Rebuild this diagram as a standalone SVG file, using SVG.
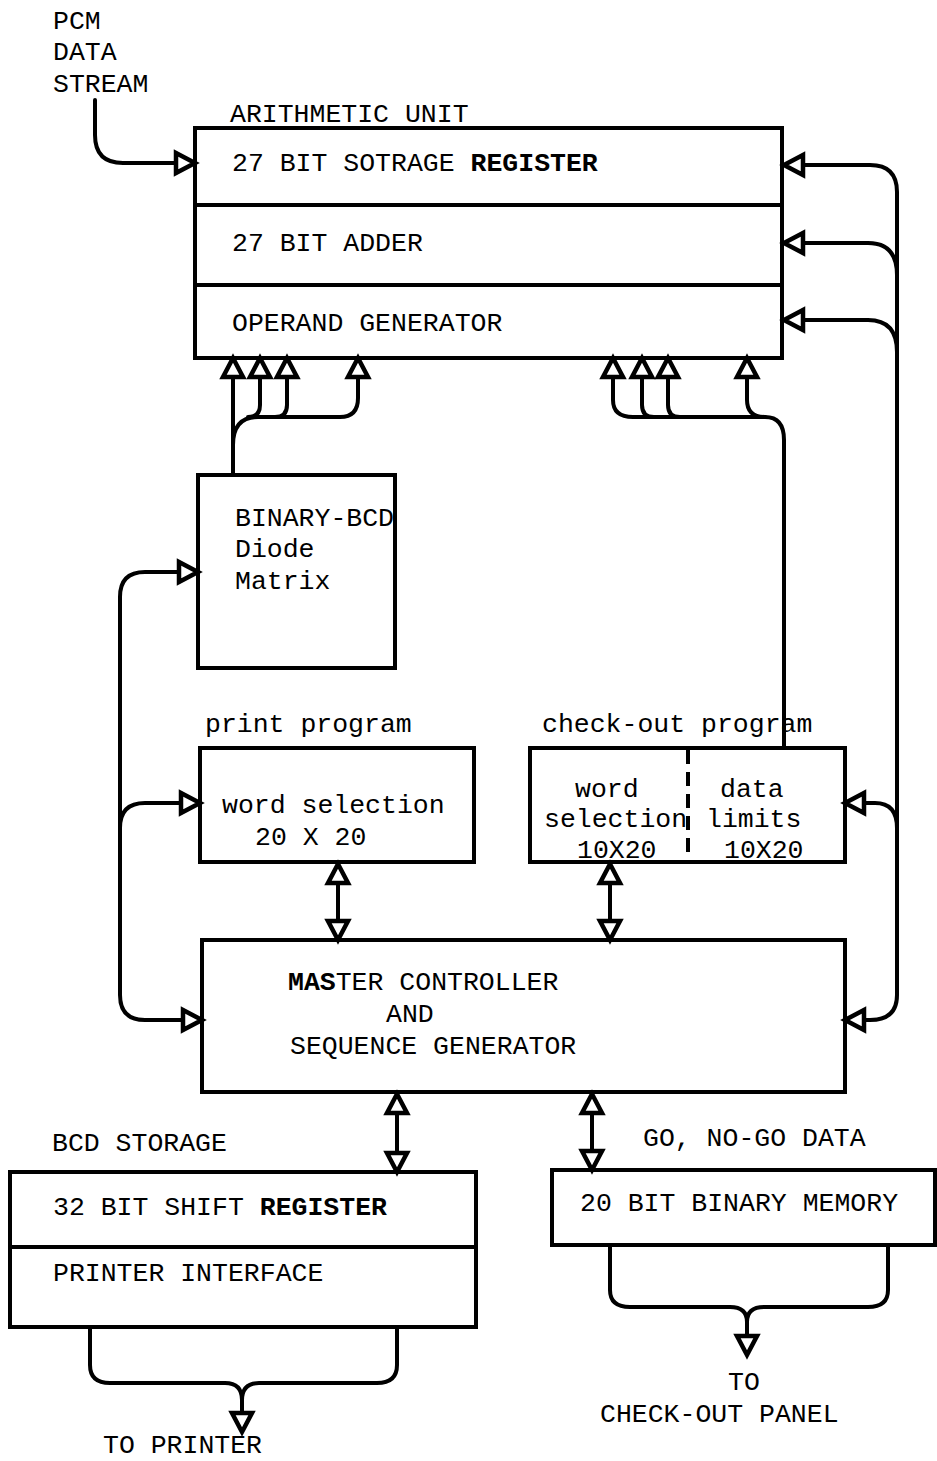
<svg xmlns="http://www.w3.org/2000/svg" xmlns:xlink="http://www.w3.org/1999/xlink" width="937" height="1461" viewBox="0 0 937 1461">
<style>
.box{fill:none;stroke:#000;stroke-width:4}
.ln{fill:none;stroke:#000;stroke-width:4;stroke-linejoin:round;stroke-linecap:round}
.ar{fill:#fff;stroke:#000;stroke-width:4.5;stroke-linejoin:miter}
text{font-family:"Liberation Mono","Courier New",monospace;font-size:26.5px;fill:#000}
.b{font-weight:bold}
</style>
<defs>
<path id="ah" d="M0,0 L-19,-10 L-19,10 Z"/>
</defs>
<rect width="937" height="1461" fill="#fff"/>

<g id="connectors">
<path class="ln" d="M95,100 V135 Q95,163 123,163 H176"/>
<path class="ln" d="M802,165 H870 Q897,165 897,192 V995 Q897,1020 870,1020 H864"/>
<path class="ln" d="M802,243 H868 Q897,243 897,275"/>
<path class="ln" d="M802,320 H868 Q897,320 897,352"/>
<path class="ln" d="M864,803 H875 Q897,803 897,828"/>
<path class="ln" d="M179,572 H145 Q120,572 120,597 V995 Q120,1020 145,1020 H183"/>
<path class="ln" d="M181,803 H145 Q120,803 120,828"/>
<path class="ln" d="M233,475 V377"/>
<path class="ln" d="M233,445 Q233,417 258,417 H340 Q358,417 358,398 V377"/>
<path class="ln" d="M260,377 V405 Q260,417 248,417"/>
<path class="ln" d="M287,377 V405 Q287,417 275,417"/>
<path class="ln" d="M613,377 V400 Q613,417 633,417 H765 Q784,417 784,440 V748"/>
<path class="ln" d="M642,377 V405 Q642,417 654,417"/>
<path class="ln" d="M668,377 V405 Q668,417 680,417"/>
<path class="ln" d="M747,377 V400 Q747,417 765,417"/>
<path class="ln" d="M338,883 V921"/>
<path class="ln" d="M610,883 V921"/>
<path class="ln" d="M397,1113 V1153"/>
<path class="ln" d="M592,1113 V1151"/>
<path class="ln" d="M90,1327 V1365 Q90,1383 110,1383 H225 Q242,1383 242,1400 V1413"/>
<path class="ln" d="M397,1327 V1365 Q397,1383 377,1383 H259 Q242,1383 242,1400"/>
<path class="ln" d="M610,1245 V1290 Q610,1307 630,1307 H730 Q747,1307 747,1322 V1336"/>
<path class="ln" d="M888,1245 V1290 Q888,1307 868,1307 H764 Q747,1307 747,1322"/>
<!-- arrowheads -->
<use xlink:href="#ah" class="ar" transform="translate(195,163)"/>
<use xlink:href="#ah" class="ar" transform="translate(784,165) rotate(180)"/>
<use xlink:href="#ah" class="ar" transform="translate(784,243) rotate(180)"/>
<use xlink:href="#ah" class="ar" transform="translate(784,320) rotate(180)"/>
<use xlink:href="#ah" class="ar" transform="translate(845,803) rotate(180)"/>
<use xlink:href="#ah" class="ar" transform="translate(845,1020) rotate(180)"/>
<use xlink:href="#ah" class="ar" transform="translate(198,572)"/>
<use xlink:href="#ah" class="ar" transform="translate(200,803)"/>
<use xlink:href="#ah" class="ar" transform="translate(202,1020)"/>
<use xlink:href="#ah" class="ar" transform="translate(233,358) rotate(-90)"/>
<use xlink:href="#ah" class="ar" transform="translate(260,358) rotate(-90)"/>
<use xlink:href="#ah" class="ar" transform="translate(287,358) rotate(-90)"/>
<use xlink:href="#ah" class="ar" transform="translate(358,358) rotate(-90)"/>
<use xlink:href="#ah" class="ar" transform="translate(613,358) rotate(-90)"/>
<use xlink:href="#ah" class="ar" transform="translate(642,358) rotate(-90)"/>
<use xlink:href="#ah" class="ar" transform="translate(668,358) rotate(-90)"/>
<use xlink:href="#ah" class="ar" transform="translate(747,358) rotate(-90)"/>
<use xlink:href="#ah" class="ar" transform="translate(338,864) rotate(-90)"/>
<use xlink:href="#ah" class="ar" transform="translate(338,940) rotate(90)"/>
<use xlink:href="#ah" class="ar" transform="translate(610,864) rotate(-90)"/>
<use xlink:href="#ah" class="ar" transform="translate(610,940) rotate(90)"/>
<use xlink:href="#ah" class="ar" transform="translate(397,1094) rotate(-90)"/>
<use xlink:href="#ah" class="ar" transform="translate(397,1172) rotate(90)"/>
<use xlink:href="#ah" class="ar" transform="translate(592,1094) rotate(-90)"/>
<use xlink:href="#ah" class="ar" transform="translate(592,1170) rotate(90)"/>
<use xlink:href="#ah" class="ar" transform="translate(242,1432) rotate(90)"/>
<use xlink:href="#ah" class="ar" transform="translate(747,1355) rotate(90)"/>
</g>

<g id="pcm">
<text x="53" y="29">PCM</text>
<text x="53" y="60">DATA</text>
<text x="53" y="92">STREAM</text>
</g>

<g id="arithmetic-unit">
<text x="230" y="122">ARITHMETIC UNIT</text>
<rect class="box" x="195" y="128" width="587" height="230"/>
<line class="box" x1="195" y1="205" x2="782" y2="205"/>
<line class="box" x1="195" y1="285" x2="782" y2="285"/>
<text x="232" y="171">27 BIT SOTRAGE <tspan class="b">REGISTER</tspan></text>
<text x="232" y="251">27 BIT ADDER</text>
<text x="232" y="331">OPERAND GENERATOR</text>
</g>

<g id="binary-bcd">
<rect class="box" x="198" y="475" width="197" height="193"/>
<text x="235" y="526">BINARY-BCD</text>
<text x="235" y="557">Diode</text>
<text x="235" y="589">Matrix</text>
</g>

<g id="print-program">
<text x="205" y="732">print program</text>
<rect class="box" x="200" y="748" width="274" height="114"/>
<text x="222" y="813">word selection</text>
<text x="255" y="845">20 X 20</text>
</g>

<g id="checkout-program">
<text x="542" y="732">check-out program</text>
<rect class="box" x="530" y="748" width="315" height="114"/>
<line x1="688" y1="750" x2="688" y2="862" stroke="#000" stroke-width="4" stroke-dasharray="14,8"/>
<text x="575" y="797">word</text>
<text x="544" y="827">selection</text>
<text x="577" y="858">10X20</text>
<text x="720" y="797">data</text>
<text x="706" y="827">limits</text>
<text x="724" y="858">10X20</text>
</g>

<g id="master-controller">
<rect class="box" x="202" y="940" width="643" height="152"/>
<text x="288" y="990"><tspan class="b">MAS</tspan>TER CONTROLLER</text>
<text x="386" y="1022">AND</text>
<text x="290" y="1054">SEQUENCE GENERATOR</text>
</g>

<g id="bcd-storage">
<text x="52" y="1151">BCD STORAGE</text>
<rect class="box" x="10" y="1172" width="466" height="155"/>
<line class="box" x1="10" y1="1247" x2="476" y2="1247"/>
<text x="53" y="1215">32 BIT SHIFT <tspan class="b">REGISTER</tspan></text>
<text x="53" y="1281">PRINTER INTERFACE</text>
<text x="103" y="1453">TO PRINTER</text>
</g>

<g id="binary-memory">
<text x="643" y="1146">GO, NO-GO DATA</text>
<rect class="box" x="552" y="1170" width="383" height="75"/>
<text x="580" y="1211">20 BIT BINARY MEMORY</text>
<text x="728" y="1390">TO</text>
<text x="600" y="1422">CHECK-OUT PANEL</text>
</g>
</svg>
